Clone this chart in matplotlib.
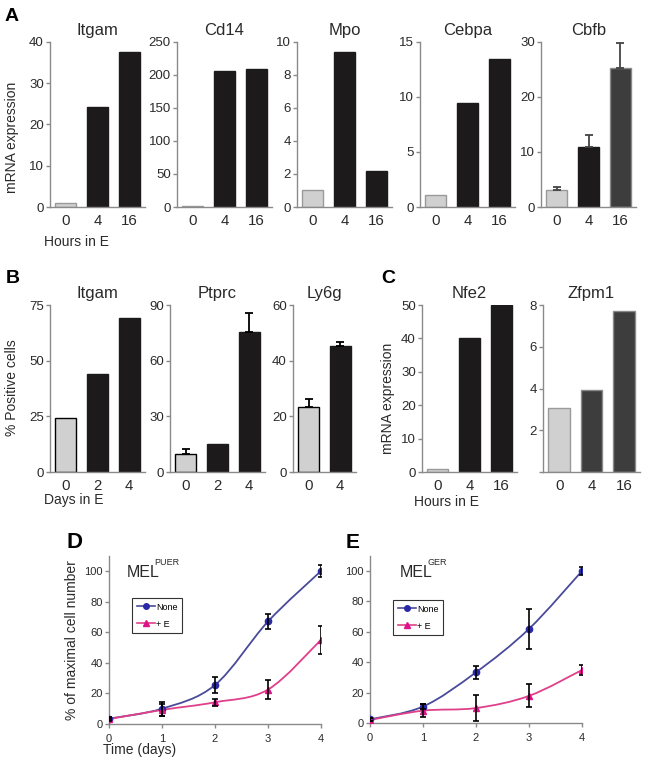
import numpy as np
import matplotlib
matplotlib.use('Agg')
import matplotlib.pyplot as plt
from matplotlib.path import Path
from matplotlib.patches import PathPatch
from matplotlib.lines import Line2D

plt.rcParams['font.family'] = ['Liberation Sans', 'DejaVu Sans']

# ---------------- data ----------------
hours = ['0', '4', '16']
a_itgam = [1.0, 24.3, 37.6]
a_cd14 = [1.5, 206, 208]
a_mpo = [1.0, 9.4, 2.2]
a_cebpa = [1.05, 9.45, 13.4]
a_cbfb = [3.1, 10.9, 25.2]
a_cbfb_err = [0.5, 2.1, 4.6]

days = ['0', '2', '4']
b_itgam = [24.3, 44.0, 69.0]
b_ptprc = [9.7, 15.1, 75.3]
b_ptprc_err = [2.5, np.nan, 10.2]
ly6g_days = ['0', '4']
b_ly6g = [23.3, 45.4]
b_ly6g_err = [3.0, 1.4]

c_nfe2 = [1.0, 40.0, 50.0]
c_zfpm1 = [3.06, 3.94, 7.7]

time_days = [0, 1, 2, 3, 4]
d_none = [3.5, 10.0, 25.5, 67.0, 100.0]
d_none_err = [1.0, 4.5, 5.0, 5.0, 4.0]
d_e = [3.2, 9.2, 14.2, 22.5, 55.0]
d_e_err = [1.0, 4.0, 2.3, 6.2, 9.2]
e_none = [2.6, 11.0, 33.5, 62.0, 100.0]
e_none_err = [1.0, 1.5, 4.4, 13.0, 2.5]
e_e = [2.2, 8.3, 10.0, 18.0, 35.0]
e_e_err = [1.0, 4.2, 8.4, 7.5, 3.5]

# ---------------- style ----------------
LG, LG_EDGE = '#d0d0d0', '#9a9a9a'
BK = '#1c1a1a'
DG, DG_EDGE = '#3d3d3d', '#8a8a8a'
AXC = '#8a8a8a'
TXT = '#2a2a2a'
BLUE_L, BLUE_M = '#4a4a9a', '#2a2aa8'
PINK_L, PINK_M = '#e0408a', '#e0108a'

W, H = 649, 763
fig = plt.figure(figsize=(W / 100, H / 100), dpi=100)


def add_ax(l, t, r, b):
    return fig.add_axes([l / W, 1 - b / H, (r - l) / W, (b - t) / H])


def ftext(x, y, s, **kw):
    kw.setdefault('color', TXT)
    fig.text(x / W, 1 - y / H, s, **kw)


def style_axes(ax, ysize=9.5, xsize=10.8, xtick_len=0):
    for sp in ['top', 'right']:
        ax.spines[sp].set_visible(False)
    for sp in ['left', 'bottom']:
        ax.spines[sp].set_color(AXC)
        ax.spines[sp].set_linewidth(1.0)
    ax.tick_params(axis='y', direction='out', length=3, width=1, color=AXC,
                   labelsize=ysize, labelcolor=TXT, pad=1.5)
    ax.tick_params(axis='x', direction='out', length=xtick_len, width=1, color=AXC,
                   labelsize=xsize, labelcolor=TXT, pad=5)


def bar_panel(l, t, r, b, title, labels, values, colors, edges, ylim, yticks,
              err=None, ecolor='black', yticklabels=None):
    ax = add_ax(l, t, r, b)
    x = np.arange(len(values))
    ax.bar(x, values, width=0.66, color=colors, edgecolor=edges, linewidth=1.0, zorder=2)
    if err is not None:
        err = np.asarray(err, dtype=float)
        m = ~np.isnan(err)
        ax.errorbar(x[m], np.asarray(values)[m], yerr=[np.zeros(m.sum()), err[m]],
                    fmt='none', ecolor=ecolor, elinewidth=1.3, capsize=3, capthick=1.3, zorder=3)
    ax.set_xlim(-0.5, len(values) - 0.5)
    ax.set_ylim(*ylim)
    ax.set_yticks(yticks)
    if yticklabels is not None:
        ax.set_yticklabels(yticklabels)
    ax.set_xticks(x)
    ax.set_xticklabels(labels)
    ax.set_title(title, fontsize=12, color=TXT, pad=5)
    style_axes(ax)
    return ax


# ---------------- Panel A ----------------
At, Ab = 41.7, 207
bar_panel(50, At, 145, Ab, 'Itgam', hours, a_itgam, [LG, BK, BK], [LG_EDGE, BK, BK],
          (0, 40), [0, 10, 20, 30, 40])
bar_panel(177, At, 272, Ab, 'Cd14', hours, a_cd14, [LG, BK, BK], [LG_EDGE, BK, BK],
          (0, 250), [0, 50, 100, 150, 200, 250])
bar_panel(297, At, 392, Ab, 'Mpo', hours, a_mpo, [LG, BK, BK], [LG_EDGE, BK, BK],
          (0, 10), [0, 2, 4, 6, 8, 10])
bar_panel(420, At, 515, Ab, 'Cebpa', hours, a_cebpa, [LG, BK, BK], [LG_EDGE, BK, BK],
          (0, 15), [0, 5, 10, 15])
bar_panel(541, At, 636, Ab, 'Cbfb', hours, a_cbfb, [LG, BK, DG], [LG_EDGE, BK, DG_EDGE],
          (0, 30), [0, 10, 20, 30], err=a_cbfb_err, ecolor='#444444')

# ---------------- Panel B ----------------
Bt, Bb = 305, 472
bar_panel(50, Bt, 145, Bb, 'Itgam', days, b_itgam, [LG, BK, BK], ['black', BK, BK],
          (0, 75), [0, 25, 50, 75])
bar_panel(170, Bt, 265, Bb, 'Ptprc', days, b_ptprc, [LG, BK, BK], ['black', BK, BK],
          (0, 90), [0, 30, 60, 90], err=b_ptprc_err)
bar_panel(293, Bt, 356, Bb, 'Ly6g', ly6g_days, b_ly6g, [LG, BK], ['black', BK],
          (0, 60), [0, 20, 40, 60], err=b_ly6g_err)

# ---------------- Panel C ----------------
bar_panel(422, Bt, 517, Bb, 'Nfe2', hours, c_nfe2, [LG, BK, BK], [LG_EDGE, BK, BK],
          (0, 50), [0, 10, 20, 30, 40, 50])
bar_panel(543, Bt, 640, Bb, 'Zfpm1', hours, c_zfpm1, [LG, DG, DG], [LG_EDGE, DG_EDGE, DG_EDGE],
          (0, 8), [0, 2, 4, 6, 8], yticklabels=['', '2', '4', '6', '8'])


# ---------------- Panels D / E ----------------
def smooth_path(xs, ys):
    P = np.column_stack([xs, ys]).astype(float)
    n = len(P)
    verts = [P[0]]
    codes = [Path.MOVETO]
    for i in range(n - 1):
        p0 = P[i - 1] if i > 0 else P[i]
        p1, p2 = P[i], P[i + 1]
        p3 = P[i + 2] if i + 2 < n else P[i + 1]
        c1 = p1 + (p2 - p0) / 6.0
        c2 = p2 - (p3 - p1) / 6.0
        verts += [c1, c2, p2]
        codes += [Path.CURVE4] * 3
    return Path(verts, codes)


def growth_panel(l, r, y0, y100, none, none_err, e, e_err, legend_box, ylabel=None):
    top = y0 - (y0 - y100) * 1.1
    ax = add_ax(l, top, r, y0)
    ax.add_patch(PathPatch(smooth_path(time_days, none), fill=False, edgecolor=BLUE_L, lw=1.3, zorder=2))
    ax.add_patch(PathPatch(smooth_path(time_days, e), fill=False, edgecolor=PINK_L, lw=1.3, zorder=2))
    ax.plot(time_days, none, ls='none', marker='o', ms=4.5, color=BLUE_M, zorder=3)
    ax.plot(time_days, e, ls='none', marker='^', ms=5, color=PINK_M, zorder=3)
    ax.errorbar(time_days, none, yerr=none_err, fmt='none', ecolor='black',
                elinewidth=1.2, capsize=2.2, capthick=1.2, zorder=4)
    ax.errorbar(time_days, e, yerr=e_err, fmt='none', ecolor='black',
                elinewidth=1.2, capsize=2.2, capthick=1.2, zorder=4)
    ax.set_xlim(0, 4)
    ax.set_ylim(0, 110)
    ax.set_xticks(time_days)
    ax.set_yticks([0, 20, 40, 60, 80, 100])
    style_axes(ax, ysize=8, xsize=8, xtick_len=3)
    ax.tick_params(axis='x', pad=4)
    handles = [Line2D([], [], color=BLUE_L, marker='o', ms=4, mfc=BLUE_M, mec=BLUE_M, lw=1.2),
               Line2D([], [], color=PINK_L, marker='^', ms=4.5, mfc=PINK_M, mec=PINK_M, lw=1.2)]
    bl, bt = legend_box
    leg = fig.legend(handles, ['None', '+ E'], loc='upper left',
                     bbox_to_anchor=(bl / W, 1 - bt / H), fontsize=6.5,
                     frameon=True, fancybox=False, handlelength=2.0, handletextpad=0.2,
                     borderpad=0.5, labelspacing=0.9, borderaxespad=0)
    leg.get_frame().set_edgecolor('black')
    leg.get_frame().set_linewidth(0.8)
    return ax


growth_panel(109, 321, 724, 571, d_none, d_none_err, d_e, d_e_err, (132, 598))
growth_panel(370, 582, 723.3, 571, e_none, e_none_err, e_e, e_e_err, (393, 600))

# ---------------- texts ----------------
for s, x, y, fs in [('A', 5, 21, 14), ('B', 6, 283, 14), ('C', 381, 283, 14),
                    ('D', 66, 548, 16), ('E', 346, 548, 15)]:
    ftext(x, y, s, fontsize=fs, fontweight='bold', color='black', ha='left', va='baseline')

ftext(12, 137, 'mRNA expression', rotation=90, fontsize=10, ha='center', va='center')
ftext(12, 388, '% Positive cells', rotation=90, fontsize=10, ha='center', va='center')
ftext(388, 398, 'mRNA expression', rotation=90, fontsize=10, ha='center', va='center')
ftext(72, 640, '% of maximal cell number', rotation=90, fontsize=10, ha='center', va='center')

ftext(77, 242, 'Hours in E', fontsize=10, ha='center', va='center')
ftext(74, 500, 'Days in E', fontsize=10, ha='center', va='center')
ftext(447, 502, 'Hours in E', fontsize=10, ha='center', va='center')
ftext(140, 750, 'Time (days)', fontsize=10, ha='center', va='center')

ftext(127, 577, 'MEL', fontsize=11.5, ha='left', va='baseline')
ftext(154, 565, 'PUER', fontsize=6.5, ha='left', va='baseline')
ftext(400, 577, 'MEL', fontsize=11.5, ha='left', va='baseline')
ftext(427, 565, 'GER', fontsize=6.5, ha='left', va='baseline')

fig.savefig('out.png', dpi=100, facecolor='white')
